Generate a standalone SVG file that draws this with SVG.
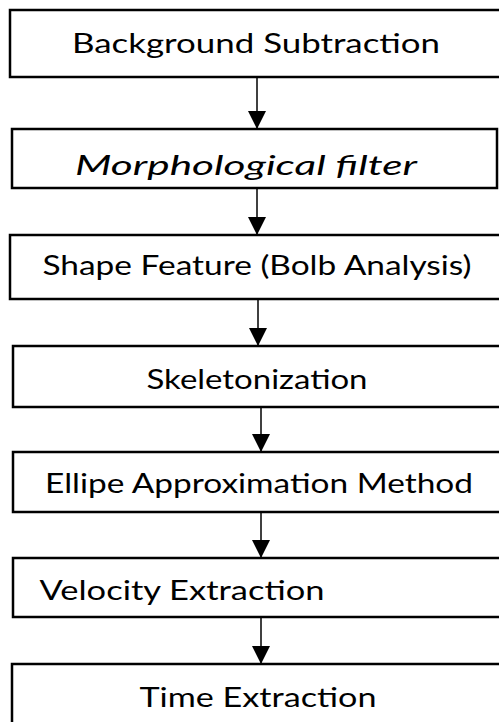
<svg xmlns="http://www.w3.org/2000/svg" width="499" height="722" viewBox="0 0 499 722">
<style>
.box{fill:#fff;stroke:#000;stroke-width:2.5}
.lbl{font-family:Lato,"Open Sans","Liberation Sans",sans-serif;font-size:27px;fill:#000;text-anchor:middle}
.it{font-style:italic}
.conn{stroke:#000;stroke-width:1.5;fill:none}
</style>
<defs>
<marker id="ah" markerUnits="userSpaceOnUse" markerWidth="18" markerHeight="18" refX="18" refY="9" orient="auto">
<path d="M0,0 L18,9 L0,18 Z" fill="#000"/>
</marker>
</defs>
<rect width="499" height="722" fill="#fff"/>
<g id="connectors">
<line class="conn" x1="257" y1="77" x2="257" y2="129" marker-end="url(#ah)"/>
<line class="conn" x1="257" y1="188" x2="257" y2="235" marker-end="url(#ah)"/>
<line class="conn" x1="258" y1="299" x2="258" y2="346" marker-end="url(#ah)"/>
<line class="conn" x1="261" y1="407" x2="261" y2="452" marker-end="url(#ah)"/>
<line class="conn" x1="261" y1="512" x2="261" y2="558" marker-end="url(#ah)"/>
<line class="conn" x1="261" y1="617" x2="261" y2="664" marker-end="url(#ah)"/>
</g>
<g id="n1"><rect class="box" x="10" y="10" width="495" height="67"/><text class="lbl" x="256" y="53" textLength="368" lengthAdjust="spacingAndGlyphs">Background Subtraction</text></g>
<g id="n2"><rect class="box" x="12" y="129" width="485" height="59"/><text class="lbl it" x="246" y="175" textLength="342" lengthAdjust="spacingAndGlyphs">Morphological filter</text></g>
<g id="n3"><rect class="box" x="10" y="235" width="495" height="64"/><text class="lbl" x="257" y="275" textLength="429" lengthAdjust="spacingAndGlyphs">Shape Feature (Bolb Analysis)</text></g>
<g id="n4"><rect class="box" x="13" y="346" width="492" height="61"/><text class="lbl" x="257" y="389" textLength="221" lengthAdjust="spacingAndGlyphs">Skeletonization</text></g>
<g id="n5"><rect class="box" x="13" y="452" width="492" height="60"/><text class="lbl" x="259" y="493" textLength="428" lengthAdjust="spacingAndGlyphs">Ellipe Approximation Method</text></g>
<g id="n6"><rect class="box" x="13" y="558" width="492" height="59"/><text class="lbl" x="182" y="600" textLength="285" lengthAdjust="spacingAndGlyphs">Velocity Extraction</text></g>
<g id="n7"><rect class="box" x="12" y="664" width="493" height="70"/><text class="lbl" x="258" y="707" textLength="237" lengthAdjust="spacingAndGlyphs">Time Extraction</text></g>
</svg>
